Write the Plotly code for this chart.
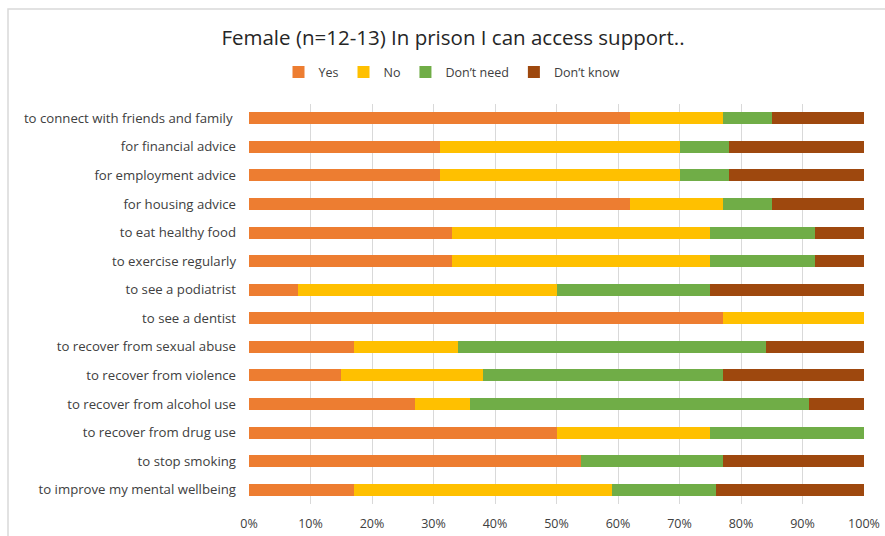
import plotly.graph_objects as go

categories = [
    "to connect with friends and family\u00a0",
    "for financial advice",
    "for employment advice",
    "for housing advice",
    "to eat healthy food",
    "to exercise regularly",
    "to see a podiatrist",
    "to see a dentist",
    "to recover from sexual abuse",
    "to recover from violence",
    "to recover from alcohol use",
    "to recover from drug use",
    "to stop smoking",
    "to improve my mental wellbeing",
]
yes = [62, 31, 31, 62, 33, 33, 8, 77, 17, 15, 27, 50, 54, 17]
no = [15, 39, 39, 15, 42, 42, 42, 23, 17, 23, 9, 25, 0, 42]
dont_need = [8, 8, 8, 8, 17, 17, 25, 0, 50, 39, 55, 25, 23, 17]
dont_know = [15, 22, 22, 15, 8, 8, 25, 0, 16, 23, 9, 0, 23, 24]

series = [
    ("Yes", yes, "#ED7D31"),
    ("No", no, "#FFC000"),
    ("Don\u2019t need", dont_need, "#70AD47"),
    ("Don\u2019t know", dont_know, "#9E480E"),
]

fig = go.Figure()
for name, vals, color in series:
    fig.add_trace(go.Bar(
        y=categories, x=[v / 100 for v in vals], name=name, orientation="h",
        marker=dict(color=color, line=dict(width=0)),
    ))

font_family = "Open Sans"
fig.update_layout(
    barmode="stack",
    bargap=0.58,
    width=885, height=536,
    margin=dict(l=249, r=21, t=104, b=32, autoexpand=False),
    paper_bgcolor="white", plot_bgcolor="white",
    font=dict(family=font_family, color="#404040", size=12),
    title=dict(text="Female (n=12-13) In prison I can access support..",
               x=453 / 885, xref="container", xanchor="center", y=0.93, yanchor="middle",
               font=dict(size=20.5, color="#262626", family=font_family)),
    legend=dict(orientation="h", x=452 / 885, xanchor="center", xref="container",
                y=0.865, yanchor="middle", yref="container",
                font=dict(size=12.5, color="#404040"),
                itemwidth=30, traceorder="normal"),
    xaxis=dict(range=[0, 1], tickformat=".0%", dtick=0.1, showgrid=True,
               gridcolor="#D9D9D9", gridwidth=1, zeroline=False, automargin=False,
               tickfont=dict(size=12.5, color="#404040"), ticks="", showline=False,
               ticklabelstandoff=10),
    yaxis=dict(autorange="reversed", showgrid=False, ticks="", showline=False,
               automargin=False,
               tickfont=dict(size=13.2, color="#404040"), ticklabelstandoff=12),
    shapes=[dict(type="rect", xref="paper", yref="paper",
                 x0=(8 - 249) / 615, x1=(890 - 249) / 615,
                 y0=-0.2, y1=(504 - 9) / 400,
                 line=dict(color="#D9D9D9", width=1.5), fillcolor="rgba(0,0,0,0)",
                 layer="below")],
)

fig.write_html("out.html")
